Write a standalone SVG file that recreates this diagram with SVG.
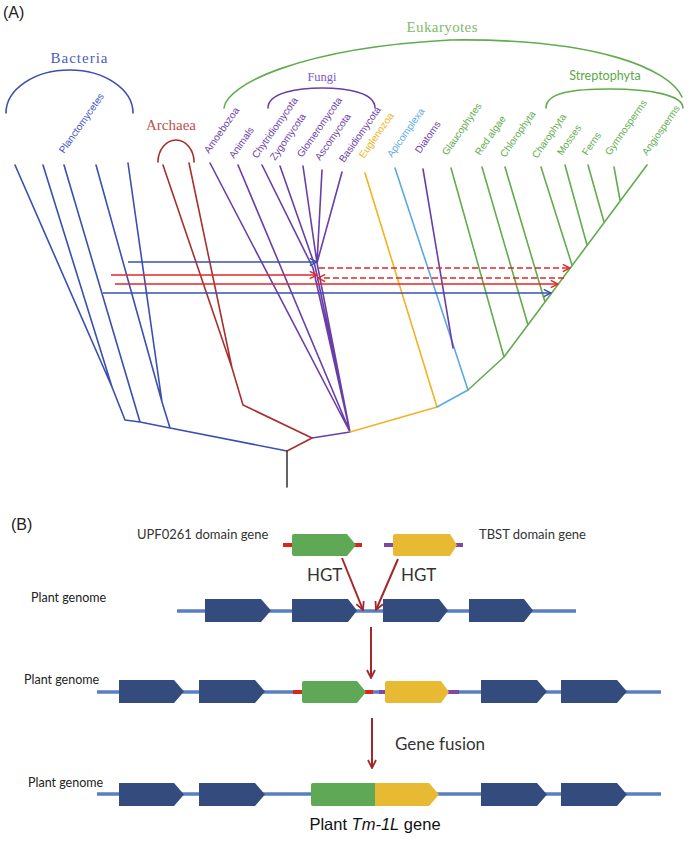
<svg xmlns="http://www.w3.org/2000/svg" width="697" height="841" viewBox="0 0 697 841">
<defs>
<style>
.t{fill:none;stroke-width:1.6;stroke-linecap:round;stroke-linejoin:round}
.bl{stroke:#3a4fb0}.rd{stroke:#a8302c}.pu{stroke:#6a3ea8}.ye{stroke:#f0b323}.lb{stroke:#5aa9e6}.gr{stroke:#62ac4e}.bk{stroke:#3c3c3c}
.lab{font-family:"Liberation Sans",Arial,sans-serif;font-size:10px}
.ser{font-family:"Liberation Serif","Times New Roman",serif}
.cal{font-family:Lato,"Liberation Sans",sans-serif}
.ar{fill:none;stroke-width:1.6}
.gene{fill:#334b7d}
.gl{stroke:#5a7fc0;stroke-width:3.5;fill:none}
.dr{stroke:#a3282a;stroke-width:2;fill:none}
</style>
<marker id="mb" viewBox="0 0 10 10" refX="9" refY="5" markerWidth="9" markerHeight="9" markerUnits="userSpaceOnUse" orient="auto"><path d="M1,1 L9,5 L1,9" fill="none" stroke="#3a4fb0" stroke-width="1.6"/></marker>
<marker id="mr" viewBox="0 0 10 10" refX="9" refY="5" markerWidth="9" markerHeight="9" markerUnits="userSpaceOnUse" orient="auto"><path d="M1,1 L9,5 L1,9" fill="none" stroke="#e0282a" stroke-width="1.6"/></marker>
<marker id="md" viewBox="0 0 10 10" refX="9" refY="5" markerWidth="10" markerHeight="10" markerUnits="userSpaceOnUse" orient="auto"><path d="M1,1 L9,5 L1,9" fill="none" stroke="#a3282a" stroke-width="1.8"/></marker>
</defs>
<rect width="697" height="841" fill="#ffffff"/>

<text x="3" y="18" font-family="Liberation Sans,Arial,sans-serif" font-size="16" fill="#222">(A)</text>

<g id="bacteria">
<path class="t bl" d="M6,113 A63.5,43 0 0 1 133,113"/>
<text class="ser" x="79" y="63" font-size="15" text-anchor="middle" textLength="57" lengthAdjust="spacing" fill="#4a5dc0">Bacteria</text>
<text class="lab" transform="translate(64,154) rotate(-55)" fill="#3d55c0">Planctomycetes</text>
<path class="t bl" d="M15,165 L112,387 L125,420 M43,165 L112,387 M64,165 L140,422 M96,165 L162,402 L170,428 M128,163 L162,402 M125,420 L140,422 L170,428 L287,451"/>
</g>

<g id="archaea">
<path class="t rd" d="M158,162 A18,22 0 0 1 194,162"/>
<text class="ser" x="171" y="130" font-size="15" text-anchor="middle" textLength="50" lengthAdjust="spacing" fill="#c0504d">Archaea</text>
<path class="t rd" d="M163,165 L232,368 L243,405 L312,438 L287,451 M189,163 L232,368"/>
</g>

<g id="root">
<path class="t bk" d="M287,451 L287,487"/>
</g>

<g id="eukaryotes">
<path class="t gr" d="M224,108 C226,85 300,48 450,40 C600,38 670,70 682,97"/>
<text class="ser" x="442" y="32" font-size="15" text-anchor="middle" textLength="71" lengthAdjust="spacing" fill="#7dbb6e">Eukaryotes</text>
</g>

<g id="fungi">
<path class="t pu" d="M268,108 C268,92 300,88 322,88 C345,88 375,92 375,108"/>
<text class="ser" x="322" y="81" font-size="12.5" text-anchor="middle" fill="#7e57c2">Fungi</text>
</g>

<g id="opisthokonts">
<text class="lab" transform="translate(209,154) rotate(-55)" fill="#6a3ea8">Amoebozoa</text>
<text class="lab" transform="translate(234,159) rotate(-55)" fill="#6a3ea8">Animals</text>
<text class="lab" transform="translate(257,159) rotate(-55)" fill="#6a3ea8">Chytridiomycota</text>
<text class="lab" transform="translate(275,161) rotate(-55)" fill="#6a3ea8">Zygomycota</text>
<text class="lab" transform="translate(302,158) rotate(-55)" fill="#6a3ea8">Glomeromycota</text>
<text class="lab" transform="translate(320,161) rotate(-55)" fill="#6a3ea8">Ascomycota</text>
<text class="lab" transform="translate(344,163) rotate(-55)" fill="#6a3ea8">Basidiomycota</text>
<path class="t pu" d="M210,163 L350,432 M238,165 L350,432 M262,165 L313,268 L350,432 M280,166 L315,266 L350,432 M303,166 L317,263 M322,170 L317,263 M342,172 L317,263 L350,432 M312,438 L350,432"/>
</g>

<g id="euglenozoa">
<text class="lab" transform="translate(364,159) rotate(-55)" fill="#f0b323">Euglenozoa</text>
<path class="t ye" d="M365,173 L437,407 L350,432"/>
</g>

<g id="apicomplexa">
<text class="lab" transform="translate(392,158) rotate(-55)" fill="#5aa9e6">Apicomplexa</text>
<path class="t lb" d="M395,168 L468,390 L437,407"/>
</g>

<g id="diatoms">
<text class="lab" transform="translate(420,154) rotate(-55)" fill="#6a3ea8">Diatoms</text>
<path class="t pu" d="M423,169 L453,348"/>
</g>

<g id="plants">
<path class="t gr" d="M546,108 C546,92 575,89 610,89 C650,89 683,95 683,108"/>
<text class="cal" x="605" y="80" font-size="12.5" text-anchor="middle" fill="#5aa84a">Streptophyta</text>
<text class="lab" transform="translate(447,156) rotate(-55)" fill="#62ac4e">Glaucophytes</text>
<text class="lab" transform="translate(480,156) rotate(-55)" fill="#62ac4e">Red algae</text>
<text class="lab" transform="translate(505,158) rotate(-55)" fill="#62ac4e">Chlorophyta</text>
<text class="lab" transform="translate(537,159) rotate(-55)" fill="#62ac4e">Charophyta</text>
<text class="lab" transform="translate(562,156) rotate(-55)" fill="#62ac4e">Mosses</text>
<text class="lab" transform="translate(587,156) rotate(-55)" fill="#62ac4e">Ferns</text>
<text class="lab" transform="translate(610,156) rotate(-55)" fill="#62ac4e">Gymnosperms</text>
<text class="lab" transform="translate(647,156) rotate(-55)" fill="#62ac4e">Angiosperms</text>
<path class="t gr" d="M468,390 L504,357 L647,165 M451,168 L504,357 M482,167 L528,325 M505,167 L545,302 M541,167 L572,265 M565,165 L587,245 M588,165 L604,222 M614,167 L620,200"/>
</g>

<g id="hgt-connectors">
<line class="ar" x1="128" y1="262" x2="317" y2="262" stroke="#3a4fb0" marker-end="url(#mb)"/>
<line class="ar" x1="319" y1="268" x2="570" y2="268" stroke="#e0282a" stroke-dasharray="6,3" marker-end="url(#mr)"/>
<line class="ar" x1="111" y1="275" x2="317" y2="275" stroke="#e0282a" marker-end="url(#mr)"/>
<line class="ar" x1="564" y1="278" x2="318" y2="278" stroke="#e0282a" stroke-dasharray="6,3" marker-end="url(#mr)"/>
<line class="ar" x1="115" y1="284" x2="558" y2="284" stroke="#e0282a" marker-end="url(#mr)"/>
<line class="ar" x1="103" y1="293" x2="551" y2="293" stroke="#3a4fb0" marker-end="url(#mb)"/>
</g>

<text x="11" y="530" font-family="Liberation Sans,Arial,sans-serif" font-size="16" fill="#222">(B)</text>

<g id="donor-genes">
<text class="cal" x="137" y="539" font-size="13" fill="#333">UPF0261 domain gene</text>
<text class="cal" x="479" y="539" font-size="13" fill="#333">TBST domain gene</text>
<line x1="283" y1="545" x2="293" y2="545" stroke="#d9261c" stroke-width="4"/>
<line x1="354" y1="545" x2="362" y2="545" stroke="#d9261c" stroke-width="4"/>
<path d="M294,534 H347 L356,545 L347,556 H294 Q292,556 292,554 V536 Q292,534 294,534 Z" fill="#5fa855"/>
<line x1="384" y1="545" x2="394" y2="545" stroke="#7b4aa6" stroke-width="4"/>
<line x1="456" y1="545" x2="463" y2="545" stroke="#7b4aa6" stroke-width="4"/>
<path d="M395,534 H450 L457,545 L450,556 H395 Q393,556 393,554 V536 Q393,534 395,534 Z" fill="#e8b932"/>
</g>

<g id="genome1">
<text class="cal" x="31" y="602" font-size="12.5" fill="#222">Plant genome</text>
<line class="gl" x1="177" y1="611" x2="576" y2="611"/>
<path class="gene" d="M205,599 H261 L271,610.5 L261,622 H205 Z"/>
<path class="gene" d="M292,599 H348 L357,610.5 L348,622 H292 Z"/>
<path class="gene" d="M383,599 H439 L448,610.5 L439,622 H383 Z"/>
<path class="gene" d="M469,599 H524 L533,610.5 L524,622 H469 Z"/>
</g>

<g id="genome2">
<text class="cal" x="24" y="684" font-size="12.5" fill="#222">Plant genome</text>
<line class="gl" x1="97" y1="692" x2="661" y2="692"/>
<path class="gene" d="M119,680 H174 L184,691.5 L174,703 H119 Z"/>
<path class="gene" d="M199,680 H255 L265,691.5 L255,703 H199 Z"/>
<line x1="293" y1="692" x2="303" y2="692" stroke="#d9261c" stroke-width="4"/>
<line x1="365" y1="692" x2="373" y2="692" stroke="#d9261c" stroke-width="4"/>
<path d="M304,681 H357 L366,692 L357,703 H304 Q302,703 302,701 V683 Q302,681 304,681 Z" fill="#5fa855"/>
<line x1="379" y1="692" x2="386" y2="692" stroke="#7b4aa6" stroke-width="4"/>
<line x1="448" y1="692" x2="459" y2="692" stroke="#7b4aa6" stroke-width="4"/>
<path d="M387,681 H441 L449,692 L441,703 H387 Q385,703 385,701 V683 Q385,681 387,681 Z" fill="#e8b932"/>
<path class="gene" d="M481,680 H537 L547,691.5 L537,703 H481 Z"/>
<path class="gene" d="M561,680 H617 L627,691.5 L617,703 H561 Z"/>
</g>

<g id="genome3">
<text class="cal" x="28" y="787" font-size="12.5" fill="#222">Plant genome</text>
<line class="gl" x1="97" y1="794" x2="661" y2="794"/>
<path class="gene" d="M119,783 H174 L184,794.5 L174,806 H119 Z"/>
<path class="gene" d="M199,783 H255 L265,794.5 L255,806 H199 Z"/>
<path d="M313,783 H375 V806 H313 Q311,806 311,804 V785 Q311,783 313,783 Z" fill="#5fa855"/>
<path d="M375,783 H429 L439,794.5 L429,806 H375 Z" fill="#e8b932"/>
<path class="gene" d="M481,783 H537 L547,794.5 L537,806 H481 Z"/>
<path class="gene" d="M561,783 H617 L627,794.5 L617,806 H561 Z"/>
<text x="375" y="830" font-family="Liberation Sans,Arial,sans-serif" font-size="16.5" text-anchor="middle" fill="#111">Plant <tspan font-style="italic">Tm-1L</tspan> gene</text>
</g>

<g id="process-arrows">
<line class="dr" x1="342" y1="558" x2="363" y2="610" marker-end="url(#md)"/>
<line class="dr" x1="398" y1="559" x2="376" y2="610" marker-end="url(#md)"/>
<text class="cal" x="307" y="581" font-size="17" fill="#333">HGT</text>
<text class="cal" x="401" y="581" font-size="17" fill="#333">HGT</text>
<line class="dr" x1="371" y1="627" x2="371" y2="678" marker-end="url(#md)"/>
<line class="dr" x1="372" y1="718" x2="372" y2="768" marker-end="url(#md)"/>
<text class="cal" x="395" y="750" font-size="17" fill="#333">Gene fusion</text>
</g>
</svg>
